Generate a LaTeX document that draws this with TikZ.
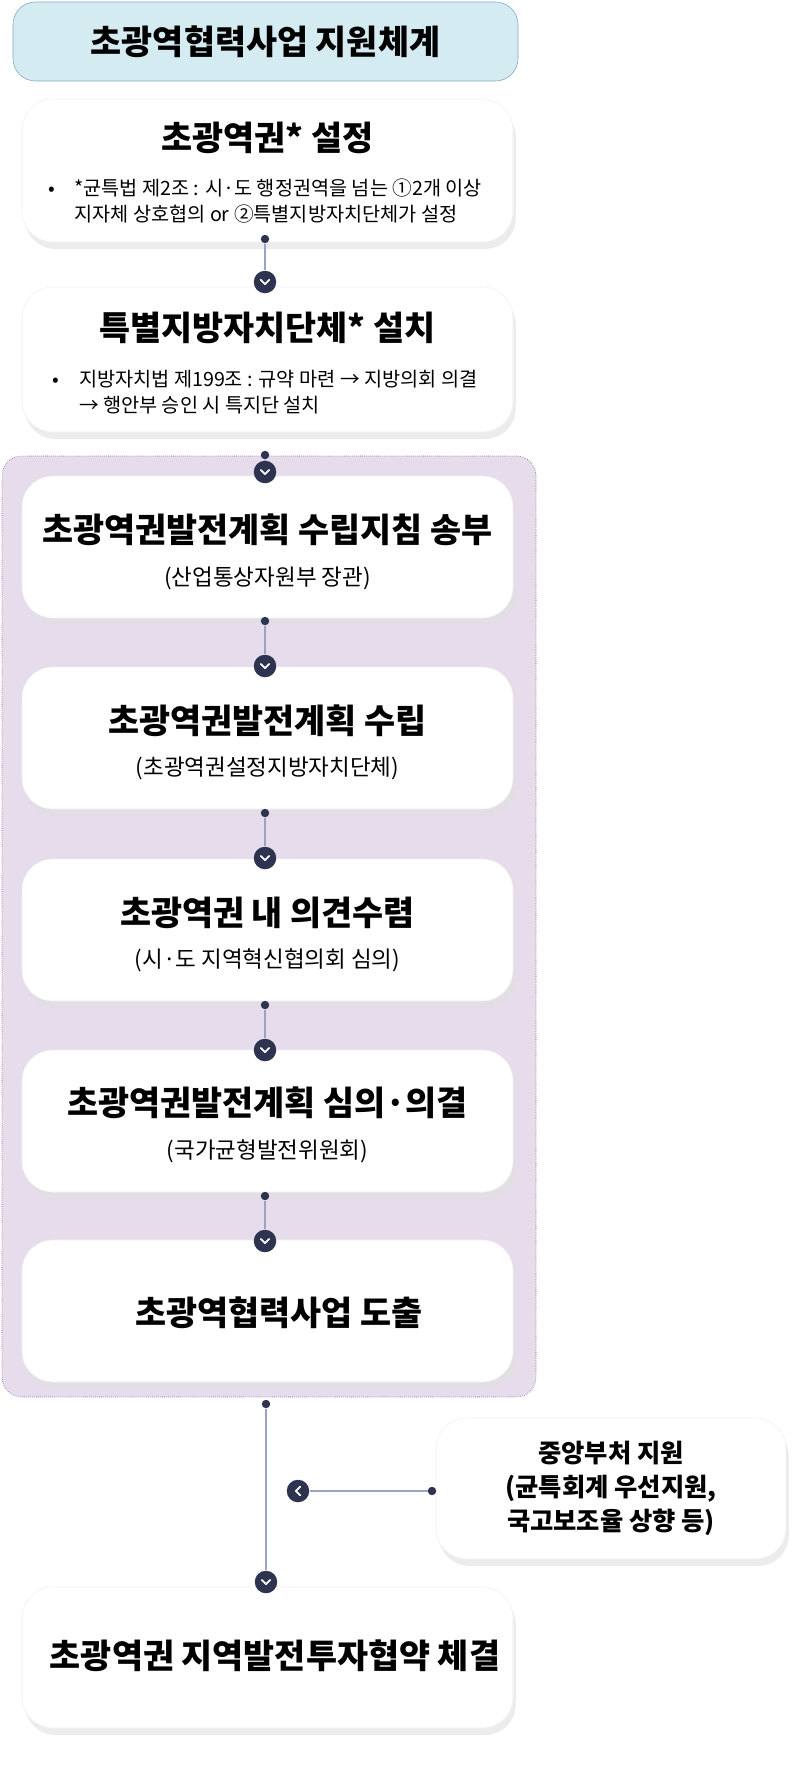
\documentclass[tikz,border=0pt]{standalone}
\usepackage{fontspec}
\setmainfont{Noto Sans CJK KR}
\usetikzlibrary{shadows}
\definecolor{navy}{HTML}{2E3350}
\definecolor{linecol}{HTML}{9AA3C4}
\definecolor{lilac}{HTML}{E6DCEC}
\definecolor{lilacline}{HTML}{6E4C8C}
\definecolor{skyfill}{HTML}{D5EBF2}
\definecolor{skyline}{HTML}{7FA8C4}
\begin{document}
\begin{tikzpicture}[x=0.025cm,y=-0.025cm]
  \tikzstyle{card}=[draw=black!6, fill=white, rounded corners=22, minimum width=491*0.025cm, align=center,
                    drop shadow={shadow xshift=2pt, shadow yshift=-5pt, fill=black!12, opacity=0.6}]
  \tikzstyle{head}=[font=\bfseries\fontsize{24}{30}\selectfont]
  \tikzstyle{sub} =[font=\fontsize{16}{20}\selectfont]
  \tikzstyle{note}=[font=\fontsize{14}{18}\selectfont, align=left]
  \tikzstyle{link}=[draw=linecol, line width=1.2pt]
  \tikzstyle{dot} =[circle, fill=navy, inner sep=0pt, minimum size=6pt]
  \tikzstyle{knob}=[circle, fill=navy, inner sep=0pt, minimum size=16pt]
  \useasboundingbox (0,0) rectangle (800,1776);
  % background frame
  \node[draw=lilacline, densely dotted, fill=lilac, rounded corners=14, minimum width=534*0.025cm, minimum height=941*0.025cm] (zone) at (269,926.5) {};
  \node[draw=skyline, fill=skyfill, rounded corners=16, minimum width=505*0.025cm, minimum height=79*0.025cm, head] (title) at (265.5,41.5) {초광역협력사업 지원체계};
  % main steps
  \node[card, minimum height=143*0.025cm] (s1) at (267.5,170.5) {};
  \node[head] at (267.5,138) {초광역권* 설정};
  \node[note] at (265,201) {•\quad *균특법 제2조 : 시·도 행정권역을 넘는 ①2개 이상\\\hphantom{•\quad }지자체 상호협의 or ②특별지방자치단체가 설정};
  \node[card, minimum height=145*0.025cm] (s2) at (267.5,359.5) {};
  \node[head] at (267.5,328) {특별지방자치단체* 설치};
  \node[note] at (265,392) {•\quad 지방자치법 제199조 : 규약 마련 → 지방의회 의결\\\hphantom{•\quad }→ 행안부 승인 시 특지단 설치};
  \node[card, minimum height=142*0.025cm] (s3) at (267.5,547) {};
  \node[head] at (267.5,530) {초광역권발전계획 수립지침 송부};
  \node[sub] at (267.5,578) {(산업통상자원부 장관)};
  \node[card, minimum height=142*0.025cm] (s4) at (267.5,738) {};
  \node[head] at (267.5,721) {초광역권발전계획 수립};
  \node[sub] at (267.5,768) {(초광역권설정지방자치단체)};
  \node[card, minimum height=142*0.025cm] (s5) at (267.5,930) {};
  \node[head] at (267.5,913) {초광역권 내 의견수렴};
  \node[sub] at (267.5,960) {(시·도 지역혁신협의회 심의)};
  \node[card, minimum height=142*0.025cm] (s6) at (267.5,1121) {};
  \node[head] at (267.5,1103) {초광역권발전계획 심의·의결};
  \node[sub] at (267.5,1151) {(국가균형발전위원회)};
  \node[card, minimum height=142*0.025cm] (s7) at (267.5,1311) {};
  \node[head] at (279,1313) {초광역협력사업 도출};
  \node[card, minimum height=141*0.025cm] (s8) at (267.5,1657.5) {};
  \node[head] at (275,1656) {초광역권 지역발전투자협약 체결};
  \node[card, minimum width=350*0.025cm, minimum height=141*0.025cm,
        font=\bfseries\fontsize{18}{24}\selectfont] (gov) at (611,1488.5) {중앙부처 지원\\(균특회계 우선지원,\\국고보조율 상향 등)};
  % connectors
  \foreach \a/\b/\ya/\yb in {s1/s2/239/282, s2/s3/455/472, s3/s4/621/666, s4/s5/813/858, s5/s6/1005/1050, s6/s7/1196/1241} {
    \node[dot] (d\a) at (265,\ya) {};
    \node[knob] (k\b) at (265,\yb) {};
    \draw[link] (d\a) -- (k\b);
    \draw[white, line width=1.3pt, line cap=round, line join=round] ([xshift=-3pt,yshift=1.5pt]k\b.center) -- ([yshift=-1.5pt]k\b.center) -- ([xshift=3pt,yshift=1.5pt]k\b.center);
  }
  \node[dot] (dzone) at (266,1404) {};
  \node[knob] (ks8) at (266,1582) {};
  \draw[link] (dzone) -- (ks8);
  \draw[white, line width=1.3pt, line cap=round, line join=round] ([xshift=-3pt,yshift=1.5pt]ks8.center) -- ([yshift=-1.5pt]ks8.center) -- ([xshift=3pt,yshift=1.5pt]ks8.center);
  \node[dot] (dgov) at (432,1491) {};
  \node[knob] (kside) at (298,1491) {};
  \draw[link] (dgov) -- (kside);
  \draw[white, line width=1.3pt, line cap=round, line join=round] ([xshift=1.5pt,yshift=3pt]kside.center) -- ([xshift=-1.5pt]kside.center) -- ([xshift=1.5pt,yshift=-3pt]kside.center);
\end{tikzpicture}
\end{document}
